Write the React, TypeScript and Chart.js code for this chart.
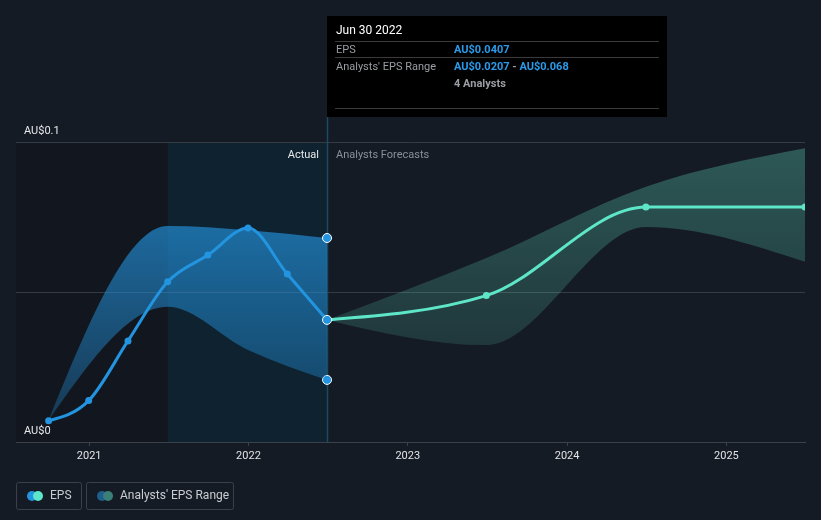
import React, { useEffect, useRef } from "react";
import { Chart, registerables } from "chart.js";

Chart.register(...registerables);

// ---- data ----
const actualDates = ["2020-09-30", "2020-12-31", "2021-03-31", "2021-06-30", "2021-09-30", "2021-12-31", "2022-03-31", "2022-06-30"];
const actualEps = [0.0071, 0.0138, 0.0337, 0.0534, 0.0623, 0.0713, 0.056, 0.0407];
const actualRangeDates = ["2020-09-30", "2021-06-30", "2021-12-31", "2022-06-30"];
const actualRangeHigh = [0.0071, 0.072, 0.0706, 0.068];
const actualRangeLow = [0.0071, 0.0451, 0.0307, 0.0207];
const forecastDates = ["2022-06-30", "2023-06-30", "2024-06-30", "2025-06-30"];
const forecastEps = [0.0407, 0.0488, 0.0783, 0.0783];
const forecastHigh = [0.0407, 0.0613, 0.0851, 0.0979];
const forecastLow = [0.0407, 0.0323, 0.0717, 0.0601];
const yearTicks = [2021, 2022, 2023, 2024, 2025];
const yTickValues = [0, 0.05, 0.1];
const yTickLabels = ["AU$0", "", "AU$0.1"];
const xMinDate = "2020-07-17";
const xMaxDate = "2025-06-30";
const pastEndDate = "2021-06-30";
const nowDate = "2022-06-30";

const FONT = "Roboto, 'Noto Sans', sans-serif";
const BLUE = "#2394df";
const TEAL = "#5ee6c8";

function toYear(s: string): number {
  const [y, m, d] = s.split("-").map(Number);
  const t = Date.UTC(y, m - 1, d) - Date.UTC(y, 0, 1);
  const len = Date.UTC(y + 1, 0, 1) - Date.UTC(y, 0, 1);
  return y + t / len;
}

function pts(dates: string[], vals: number[]) {
  return dates.map((d, i) => ({ x: toYear(d), y: vals[i] }));
}

// monotone-X (d3 style) control points, computed in pixel space from the scaled points
const sgn = (v: number) => (v < 0 ? -1 : 1);
function applyMonotoneX(points: any[]) {
  const n = points.length;
  if (n < 3) return;
  const h: number[] = [];
  const s: number[] = [];
  for (let i = 0; i < n - 1; i++) {
    h[i] = points[i + 1].x - points[i].x;
    s[i] = h[i] ? (points[i + 1].y - points[i].y) / h[i] : 0;
  }
  const t: number[] = new Array(n).fill(0);
  for (let i = 1; i < n - 1; i++) {
    const h0 = h[i - 1], h1 = h[i];
    const s0 = s[i - 1], s1 = s[i];
    const p = (s0 * h1 + s1 * h0) / (h0 + h1);
    t[i] = (sgn(s0) + sgn(s1)) * Math.min(Math.abs(s0), Math.abs(s1), 0.5 * Math.abs(p)) || 0;
  }
  t[0] = h[0] ? (3 * s[0] - t[1]) / 2 : t[1];
  t[n - 1] = h[n - 2] ? (3 * s[n - 2] - t[n - 2]) / 2 : t[n - 2];
  for (let i = 0; i < n; i++) {
    const pt = points[i];
    const hin = i > 0 ? h[i - 1] / 3 : 0;
    const hout = i < n - 1 ? h[i] / 3 : 0;
    pt.cp1x = pt.x - hin;
    pt.cp1y = pt.y - hin * t[i];
    pt.cp2x = pt.x + hout;
    pt.cp2y = pt.y + hout * t[i];
  }
}

const curvePlugin = {
  id: "curveMonotoneX",
  afterDatasetsUpdate(chart: any) {
    chart.data.datasets.forEach((_: any, i: number) => {
      const meta = chart.getDatasetMeta(i);
      const line = meta.dataset;
      if (!line) return;
      applyMonotoneX(meta.data);
      line._pointsUpdated = true;
    });
  },
};

const decorPlugin = {
  id: "decor",
  beforeDraw(chart: any) {
    const { ctx, chartArea, scales } = chart;
    ctx.save();
    ctx.fillStyle = "#151b24";
    ctx.fillRect(0, 0, chart.width, chart.height);
    if (chartArea) {
      const top = scales.y.getPixelForValue(0.1);
      const bottom = chartArea.bottom;
      const xPast = scales.x.getPixelForValue(toYear(pastEndDate));
      const xNow = scales.x.getPixelForValue(toYear(nowDate));
      ctx.fillStyle = "#12171f";
      ctx.fillRect(chartArea.left, top, xPast - chartArea.left, bottom - top);
      ctx.fillStyle = "#0e2230";
      ctx.fillRect(xPast, top, xNow - xPast, bottom - top);
    }
    ctx.restore();
  },
  beforeDatasetsDraw(chart: any) {
    const { ctx, chartArea, scales } = chart;
    const xNow = Math.round(scales.x.getPixelForValue(toYear(nowDate)));
    ctx.save();
    ctx.strokeStyle = "#1b4a62";
    ctx.lineWidth = 1.5;
    ctx.beginPath();
    ctx.moveTo(xNow + 0.5, 117);
    ctx.lineTo(xNow + 0.5, chartArea.bottom);
    ctx.stroke();
    ctx.font = `11px ${FONT}`;
    ctx.textBaseline = "middle";
    ctx.textAlign = "right";
    ctx.fillStyle = "#e6e8ea";
    ctx.fillText("Actual", xNow - 8, 155);
    ctx.textAlign = "left";
    ctx.fillStyle = "#8b9097";
    ctx.fillText("Analysts Forecasts", xNow + 9, 155);
    ctx.restore();
  },
  afterDraw(chart: any) {
    const { ctx, scales } = chart;
    const xNow = Math.round(scales.x.getPixelForValue(toYear(nowDate)));
    ctx.save();
    // tooltip box
    const bx = xNow, by = 16, bw = 340, bh = 101;
    ctx.fillStyle = "#000000";
    ctx.fillRect(bx, by, bw, bh);
    ctx.strokeStyle = "#3a3a3a";
    ctx.lineWidth = 1;
    [41.5, 57.5, 108.5].forEach((ly) => {
      ctx.beginPath();
      ctx.moveTo(bx + 8, ly);
      ctx.lineTo(bx + bw - 8, ly);
      ctx.stroke();
    });
    ctx.textBaseline = "middle";
    ctx.textAlign = "left";
    ctx.font = `12px ${FONT}`;
    ctx.fillStyle = "#ffffff";
    ctx.fillText("Jun 30 2022", bx + 9, 31);
    ctx.font = `11px ${FONT}`;
    ctx.fillStyle = "#9a9ea3";
    ctx.fillText("EPS", bx + 9, 50);
    ctx.fillText("Analysts' EPS Range", bx + 9, 67);
    const vx = bx + 127;
    ctx.font = `bold 11px ${FONT}`;
    ctx.fillStyle = "#2a9bea";
    ctx.fillText("AU$0.0407", vx, 50);
    const a = "AU$0.0207";
    ctx.fillText(a, vx, 67);
    let w = ctx.measureText(a).width;
    ctx.fillStyle = "#9a9ea3";
    ctx.fillText(" - ", vx + w, 67);
    w += ctx.measureText(" - ").width;
    ctx.fillStyle = "#2a9bea";
    ctx.fillText("AU$0.068", vx + w, 67);
    ctx.fillStyle = "#9a9ea3";
    ctx.fillText("4 Analysts", vx, 84);

    // legend
    const box = (x: number, w2: number) => {
      ctx.strokeStyle = "#3b414a";
      ctx.lineWidth = 1;
      ctx.beginPath();
      if (ctx.roundRect) ctx.roundRect(x + 0.5, 482.5, w2, 27, 2);
      else ctx.rect(x + 0.5, 482.5, w2, 27);
      ctx.stroke();
    };
    box(16, 65);
    box(86, 147);
    const dot = (x: number, c: string) => {
      ctx.fillStyle = c;
      ctx.beginPath();
      ctx.arc(x, 496, 5, 0, Math.PI * 2);
      ctx.fill();
    };
    dot(32, BLUE);
    dot(38, TEAL);
    dot(102, "#1f5f8e");
    dot(108, "#3b8078");
    ctx.font = `12px ${FONT}`;
    ctx.fillStyle = "#c9ccd0";
    ctx.fillText("EPS", 50, 496);
    ctx.fillText("Analysts' EPS Range", 120, 496);
    ctx.restore();
  },
};

function gradient(chart: any, r: number, g: number, b: number, vTop: number, vBottom: number, aTop: number, aBottom: number) {
  const { chartArea, scales } = chart;
  if (!chartArea) return `rgba(${r},${g},${b},${aTop})`;
  const y0 = scales.y.getPixelForValue(vTop);
  const y1 = scales.y.getPixelForValue(vBottom);
  const gr = chart.ctx.createLinearGradient(0, y0, 0, y1);
  gr.addColorStop(0, `rgba(${r},${g},${b},${aTop})`);
  gr.addColorStop(1, `rgba(${r},${g},${b},${aBottom})`);
  return gr;
}

export default function App() {
  const ref = useRef<HTMLCanvasElement | null>(null);

  useEffect(() => {
    document.body.style.margin = "0";
    const canvas = ref.current;
    if (!canvas) return;
    const lastIdx = actualDates.length - 1;
    const lastR = actualRangeDates.length - 1;
    const chart = new Chart(canvas, {
      type: "line",
      data: {
        datasets: [
          {
            label: "EPS",
            data: pts(actualDates, actualEps),
            borderColor: BLUE,
            borderWidth: 3,
            backgroundColor: BLUE,
            pointBackgroundColor: BLUE,
            pointBorderColor: actualDates.map((_, i) => (i === lastIdx ? "#ffffff" : BLUE)),
            pointBorderWidth: actualDates.map((_, i) => (i === lastIdx ? 1 : 0)),
            pointRadius: actualDates.map((_, i) => (i === lastIdx ? 4.5 : 3.5)),
            cubicInterpolationMode: "monotone",
            fill: false,
          },
          {
            label: "EPS forecast",
            data: pts(forecastDates, forecastEps),
            borderColor: TEAL,
            borderWidth: 3,
            backgroundColor: TEAL,
            pointBackgroundColor: TEAL,
            pointBorderWidth: 0,
            pointRadius: forecastDates.map((_, i) => (i === 0 ? 0 : 3.5)),
            cubicInterpolationMode: "monotone",
            fill: false,
          },
          {
            label: "Range high",
            data: pts(actualRangeDates, actualRangeHigh),
            borderWidth: 0,
            borderColor: "rgba(0,0,0,0)",
            backgroundColor: (c: any) => gradient(c.chart, 35, 147, 222, 0.072, 0.01, 0.66, 0.3),
            pointBackgroundColor: BLUE,
            pointBorderColor: "#ffffff",
            pointBorderWidth: 1,
            pointRadius: actualRangeDates.map((_, i) => (i === lastR ? 4.5 : 0)),
            cubicInterpolationMode: "monotone",
            fill: "+1",
          },
          {
            label: "Range low",
            data: pts(actualRangeDates, actualRangeLow),
            borderWidth: 0,
            borderColor: "rgba(0,0,0,0)",
            backgroundColor: "rgba(0,0,0,0)",
            pointBackgroundColor: BLUE,
            pointBorderColor: "#ffffff",
            pointBorderWidth: 1,
            pointRadius: actualRangeDates.map((_, i) => (i === lastR ? 4.5 : 0)),
            cubicInterpolationMode: "monotone",
            fill: false,
          },
          {
            label: "Forecast high",
            data: pts(forecastDates, forecastHigh),
            borderWidth: 0,
            borderColor: "rgba(0,0,0,0)",
            backgroundColor: (c: any) => gradient(c.chart, 100, 230, 203, 0.098, 0.032, 0.3, 0.14),
            pointRadius: 0,
            cubicInterpolationMode: "monotone",
            fill: "+1",
          },
          {
            label: "Forecast low",
            data: pts(forecastDates, forecastLow),
            borderWidth: 0,
            borderColor: "rgba(0,0,0,0)",
            backgroundColor: "rgba(0,0,0,0)",
            pointRadius: 0,
            cubicInterpolationMode: "monotone",
            fill: false,
          },
        ],
      },
      options: {
        animation: false,
        responsive: false,
        devicePixelRatio: 1,
        layout: { padding: { left: 16, right: 16, top: 142, bottom: 48 } },
        plugins: { legend: { display: false }, tooltip: { enabled: false } },
        events: [],
        scales: {
          x: {
            type: "linear",
            min: toYear(xMinDate),
            max: toYear(xMaxDate),
            afterBuildTicks: (s: any) => {
              s.ticks = yearTicks.map((v) => ({ value: v }));
            },
            afterFit: (s: any) => {
              s.height = 30;
            },
            grid: { display: true, drawOnChartArea: false, drawTicks: true, tickLength: 4, color: "#3b414a" },
            border: { display: true, color: "#3b414a" },
            ticks: {
              padding: 4,
              maxRotation: 0,
              autoSkip: false,
              color: "#e2e4e6",
              font: { family: FONT, size: 11 },
              callback: (v: any) => String(v),
            },
          },
          y: {
            min: 0,
            max: 0.1,
            afterBuildTicks: (s: any) => {
              s.ticks = yTickValues.map((v) => ({ value: v }));
            },
            afterFit: (s: any) => {
              s.width = 0;
            },
            grid: { color: "#363c45", drawTicks: false },
            border: { display: false },
            ticks: {
              mirror: true,
              padding: 8,
              labelOffset: -11,
              color: "#e6e8ea",
              font: { family: FONT, size: 11 },
              callback: (v: any) => {
                const i = yTickValues.findIndex((t) => Math.abs(t - Number(v)) < 1e-9);
                return i >= 0 ? yTickLabels[i] : "";
              },
            },
          },
        },
      },
      plugins: [curvePlugin, decorPlugin],
    } as any);
    return () => chart.destroy();
  }, []);

  return (
    <div style={{ width: 821, height: 520, position: "relative" }}>
      <canvas ref={ref} width={821} height={520} style={{ display: "block" }} />
    </div>
  );
}
